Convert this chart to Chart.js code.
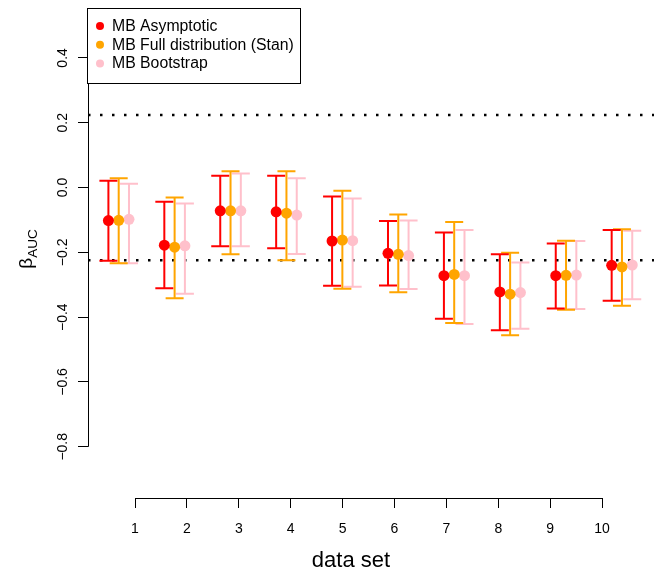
<!DOCTYPE html>
<html>
<head>
<meta charset="utf-8">
<script src="https://cdn.jsdelivr.net/npm/chart.js@4/dist/chart.umd.min.js"></script>
<style>
  body { margin: 0; background: #fff; }
  #wrap { width: 654px; height: 571px; }
</style>
</head>
<body>
<div id="wrap"><canvas id="chart" width="654" height="571"></canvas></div>
<script>
// data
const dataSets = [1, 2, 3, 4, 5, 6, 7, 8, 9, 10];
const yTicks = [-0.8, -0.6, -0.4, -0.2, 0.0, 0.2, 0.4];
const refLines = [0.224, -0.224];

const asymMid = [-0.102, -0.178, -0.072, -0.075, -0.165, -0.203, -0.272, -0.322, -0.272, -0.240];
const asymLo  = [-0.226, -0.311, -0.181, -0.187, -0.303, -0.302, -0.405, -0.440, -0.373, -0.349];
const asymHi  = [ 0.021, -0.044,  0.036,  0.036, -0.028, -0.103, -0.139, -0.206, -0.173, -0.131];

const stanMid = [-0.101, -0.184, -0.072, -0.079, -0.162, -0.206, -0.268, -0.329, -0.271, -0.245];
const stanLo  = [-0.234, -0.342, -0.206, -0.224, -0.312, -0.323, -0.418, -0.456, -0.377, -0.365];
const stanHi  = [ 0.029, -0.031,  0.050,  0.050, -0.010, -0.083, -0.106, -0.201, -0.164, -0.129];

const bootMid = [-0.098, -0.180, -0.072, -0.085, -0.164, -0.210, -0.272, -0.324, -0.270, -0.239];
const bootLo  = [-0.234, -0.328, -0.181, -0.205, -0.306, -0.313, -0.421, -0.436, -0.375, -0.345];
const bootHi  = [ 0.012, -0.049,  0.043,  0.029, -0.034, -0.102, -0.131, -0.231, -0.165, -0.133];

const seriesNames = ['MB Asymptotic', 'MB Full distribution (Stan)', 'MB Bootstrap'];
const seriesColors = ['#ff0000', '#ffa500', '#ffc0cb'];
const seriesShift = [-0.184, 0, 0.184];
const mids = [asymMid, stanMid, bootMid];
const lows = [asymLo, stanLo, bootLo];
const highs = [asymHi, stanHi, bootHi];

const FONT = '"Liberation Sans", Arial, Helvetica, sans-serif';

function fmtTick(v) {
  const s = Math.abs(v).toFixed(1);
  return v < -1e-9 ? '\u2212' + s : s;
}

// error bars, drawn just before each series' points
const errorBars = {
  id: 'errorBars',
  beforeDatasetDraw(chart, args) {
    const i = args.index;
    const ctx = chart.ctx;
    const xs = chart.scales.xp, ys = chart.scales.y;
    ctx.save();
    ctx.strokeStyle = seriesColors[i];
    ctx.lineWidth = 2;
    dataSets.forEach((d, k) => {
      const px = xs.getPixelForValue(d + seriesShift[i]);
      const lo = ys.getPixelForValue(lows[i][k]);
      const hi = ys.getPixelForValue(highs[i][k]);
      ctx.beginPath();
      ctx.moveTo(px, lo); ctx.lineTo(px, hi);
      ctx.moveTo(px - 9, lo); ctx.lineTo(px + 9, lo);
      ctx.moveTo(px - 9, hi); ctx.lineTo(px + 9, hi);
      ctx.stroke();
    });
    ctx.restore();
  }
};

const extras = {
  id: 'extras',
  beforeDatasetsDraw(chart) {
    const ctx = chart.ctx, a = chart.chartArea, ys = chart.scales.y;
    ctx.save();
    ctx.strokeStyle = '#000';
    ctx.lineWidth = 2.5;
    ctx.setLineDash([2.5, 9.5]);
    refLines.forEach(v => {
      const py = ys.getPixelForValue(v);
      ctx.beginPath();
      ctx.moveTo(a.left, py); ctx.lineTo(a.right, py);
      ctx.stroke();
    });
    ctx.restore();
  },
  afterDraw(chart) {
    const ctx = chart.ctx, a = chart.chartArea;
    const xs = chart.scales.x, ys = chart.scales.y;
    ctx.save();
    // axis lines, only between first and last tick
    ctx.strokeStyle = '#000';
    ctx.lineWidth = 1;
    ctx.beginPath();
    ctx.moveTo(a.left + 0.5, ys.getPixelForValue(yTicks[yTicks.length - 1]));
    ctx.lineTo(a.left + 0.5, ys.getPixelForValue(yTicks[0]));
    ctx.moveTo(xs.getPixelForValue(dataSets[0]), a.bottom + 0.5);
    ctx.lineTo(xs.getPixelForValue(dataSets[dataSets.length - 1]), a.bottom + 0.5);
    ctx.stroke();

    // legend box top-left inside the plot
    const lx = a.left - 1, ly = a.top;
    ctx.fillStyle = '#fff';
    ctx.fillRect(lx + 0.5, ly + 0.5, 213, 75);
    ctx.strokeRect(lx + 0.5, ly + 0.5, 213, 75);
    ctx.font = '15.8px ' + FONT;
    ctx.textBaseline = 'middle';
    ctx.textAlign = 'left';
    seriesNames.forEach((name, i) => {
      const cy = ly + 18 + i * 18.8;
      ctx.fillStyle = seriesColors[i];
      ctx.beginPath();
      ctx.arc(lx + 13, cy, 4, 0, Math.PI * 2);
      ctx.fill();
      ctx.fillStyle = '#000';
      ctx.fillText(name, lx + 25, cy + 0.5);
    });

    // x title
    ctx.font = '22px ' + FONT;
    ctx.textAlign = 'center';
    ctx.textBaseline = 'alphabetic';
    ctx.fillText('data set', 351, 567);

    // y title: beta with subscript AUC
    ctx.translate(32, 249);
    ctx.rotate(-Math.PI / 2);
    ctx.font = '19px ' + FONT;
    const wb = ctx.measureText('\u03b2').width;
    ctx.font = '13.5px ' + FONT;
    const ws = ctx.measureText('AUC').width;
    const x0 = -(wb + ws) / 2;
    ctx.textAlign = 'left';
    ctx.font = '19px ' + FONT;
    ctx.fillText('\u03b2', x0, 0);
    ctx.font = '13.5px ' + FONT;
    ctx.fillText('AUC', x0 + wb, 5);
    ctx.restore();
  }
};

const ctx = document.getElementById('chart').getContext('2d');
const chart = new Chart(ctx, {
  type: 'scatter',
  data: {
    datasets: seriesNames.map((name, i) => ({
      label: name,
      xAxisID: 'xp',
      yAxisID: 'y',
      data: dataSets.map((d, k) => ({ x: d + seriesShift[i], y: mids[i][k] })),
      pointRadius: 5.5,
      pointHoverRadius: 5.5,
      pointBackgroundColor: seriesColors[i],
      pointBorderColor: seriesColors[i],
      pointBorderWidth: 0,
      showLine: false,
    })),
  },
  options: {
    responsive: false,
    maintainAspectRatio: false,
    animation: false,
    layout: { autoPadding: false, padding: { top: 8, left: 0, right: 0, bottom: 0 } },
    plugins: {
      legend: { display: false },
      tooltip: { enabled: false },
    },
    scales: {
      x: {
        type: 'linear',
        position: 'bottom',
        min: 0.0944,
        max: 11.0,
        afterBuildTicks: (s) => { s.ticks = dataSets.map(v => ({ value: v })); },
        afterFit: (s) => { s.height = 73; s.paddingLeft = 0; s.paddingRight = 0; },
        border: { display: false },
        grid: {
          drawOnChartArea: false,
          drawTicks: true,
          tickLength: 10,
          color: '#000',
        },
        ticks: {
          color: '#000',
          padding: 13,
          maxRotation: 0,
          autoSkip: false,
          font: { family: FONT, size: 14 },
        },
      },
      xp: {
        type: 'linear',
        display: false,
        min: 0.451,
        max: 10.573,
      },
      y: {
        type: 'linear',
        position: 'left',
        min: -0.958,
        max: 0.554,
        afterBuildTicks: (s) => { s.ticks = yTicks.map(v => ({ value: v })); },
        afterFit: (s) => { s.width = 88; s.paddingTop = 0; s.paddingBottom = 0; },
        border: { display: false },
        grid: {
          drawOnChartArea: false,
          drawTicks: true,
          tickLength: 10,
          color: '#000',
        },
        ticks: {
          color: '#000',
          padding: 1,
          minRotation: 90,
          maxRotation: 90,
          crossAlign: 'center',
          autoSkip: false,
          font: { family: FONT, size: 14 },
          callback: (v) => fmtTick(v),
        },
      },
    },
  },
  plugins: [errorBars, extras],
});
</script>
</body>
</html>
